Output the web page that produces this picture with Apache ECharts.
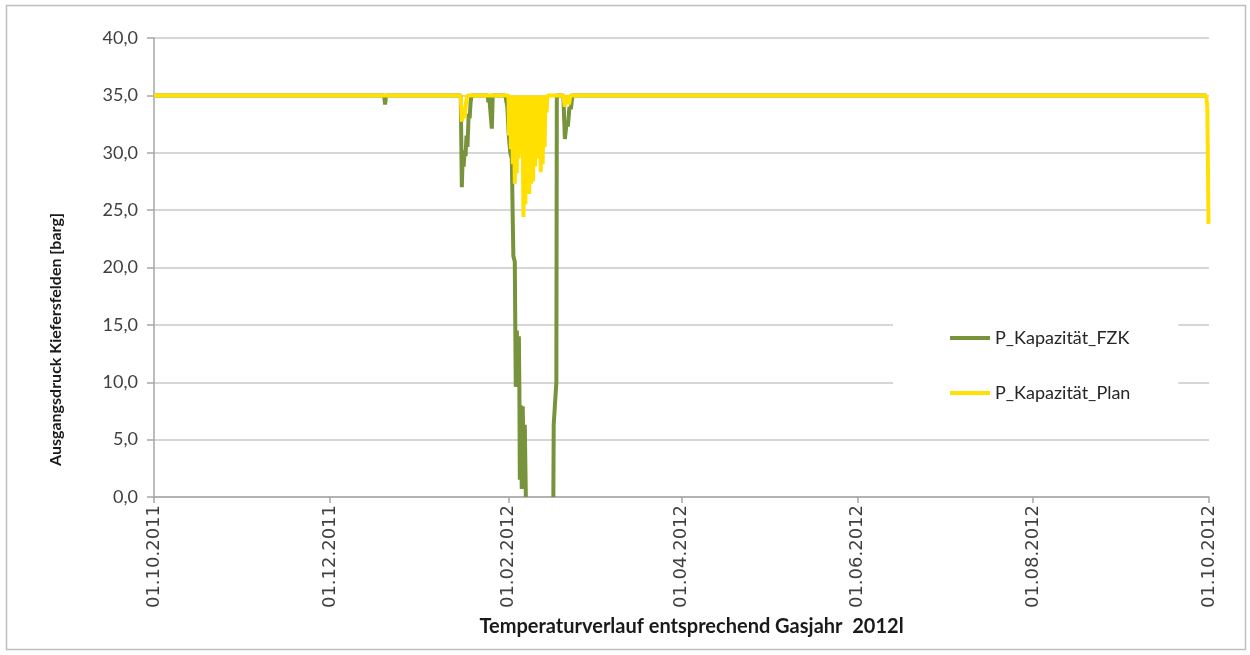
<!DOCTYPE html>
<html>
<head>
<meta charset="utf-8">
<title>Ausgangsdruck Kiefersfelden</title>
<script src="https://cdn.jsdelivr.net/npm/echarts@6/dist/echarts.min.js"></script>
<style>
  html, body { margin: 0; padding: 0; background: #fff; }
  #chart { width: 1250px; height: 655px; }
</style>
</head>
<body>
<div id="chart"></div>
<script>
// Achse
const xStart = '2011-10-01'
const xEnd = '2012-10-01'
const tickDates = ['2011-10-01', '2011-12-01', '2012-02-01', '2012-04-01', '2012-06-01', '2012-08-01', '2012-10-01']
const yMin = 0
const yMax = 40
const yStep = 5

// P_Kapazität_FZK (null = Lücke)
const fzkTimes = [
  '2011-10-01 00:00', '2011-12-19 20:00', '2011-12-20 04:00', '2011-12-20 12:00',
  '2012-01-15 10:00', '2012-01-15 19:00', '2012-01-16 03:00', '2012-01-16 10:00',
  '2012-01-16 18:00', '2012-01-17 02:00', '2012-01-17 10:00', '2012-01-17 18:00',
  '2012-01-18 04:00', '2012-01-18 12:00', '2012-01-18 20:00', '2012-01-19 04:00',
  '2012-01-24 18:00', '2012-01-25 00:00', '2012-01-25 06:00', '2012-01-25 22:00',
  '2012-01-26 05:00', '2012-01-26 12:00', '2012-01-30 21:00', '2012-01-31 14:00',
  '2012-02-01 02:00', '2012-02-01 15:00', '2012-02-02 03:00', '2012-02-02 16:00',
  '2012-02-03 04:00', '2012-02-03 12:00', '2012-02-03 21:00', '2012-02-04 05:00',
  '2012-02-04 14:00', '2012-02-04 18:00', '2012-02-04 22:00', '2012-02-05 05:00',
  '2012-02-05 14:00', '2012-02-05 22:00', '2012-02-06 07:00', '2012-02-06 15:00',
  '2012-02-07 00:00', '2012-02-10 00:00', '2012-02-16 13:00', '2012-02-16 16:00',
  '2012-02-17 14:00', '2012-02-17 18:00', '2012-02-20 00:00', '2012-02-20 13:00',
  '2012-02-21 02:00', '2012-02-21 14:00', '2012-02-22 03:00', '2012-02-22 15:00',
  '2012-02-23 04:00', '2012-09-30 00:00'
]
const fzkValues = [
  35, 35, 34.2, 35,
  35, 27.0, 30.0, 28.8,
  30.2, 29.7, 31.5, 30.5,
  33.4, 33.0, 34.4, 35,
  35, 34.4, 35, 35,
  32.1, 35, 35, 34.0,
  31.5, 30.0, 29.5, 21.0,
  20.5, 9.6, 14.5, 9.6,
  14.0, 9.6, 1.5, 8.0,
  0.7, 7.9, 2.5, 6.3,
  0.0, null, 0.0, 6.3,
  10.0, 35, 35, 31.2,
  32.5, 32.3, 34.0, 33.8,
  35, 35
]

// P_Kapazität_Plan
const planTimes = [
  '2011-10-01 00:00', '2012-01-15 10:00', '2012-01-15 19:00', '2012-01-16 07:00',
  '2012-01-16 16:00', '2012-01-17 08:00', '2012-01-17 17:00', '2012-02-01 00:00',
  '2012-02-01 04:00', '2012-02-01 12:00', '2012-02-01 20:00', '2012-02-02 04:00',
  '2012-02-02 12:00', '2012-02-02 20:00', '2012-02-03 04:00', '2012-02-03 12:00',
  '2012-02-03 20:00', '2012-02-04 04:00', '2012-02-04 12:00', '2012-02-04 20:00',
  '2012-02-05 04:00', '2012-02-05 12:00', '2012-02-05 20:00', '2012-02-06 04:00',
  '2012-02-06 12:00', '2012-02-06 20:00', '2012-02-07 04:00', '2012-02-07 12:00',
  '2012-02-07 20:00', '2012-02-08 04:00', '2012-02-08 12:00', '2012-02-08 20:00',
  '2012-02-09 04:00', '2012-02-09 12:00', '2012-02-09 20:00', '2012-02-10 04:00',
  '2012-02-10 12:00', '2012-02-10 20:00', '2012-02-11 04:00', '2012-02-11 12:00',
  '2012-02-11 20:00', '2012-02-12 04:00', '2012-02-12 12:00', '2012-02-12 20:00',
  '2012-02-13 04:00', '2012-02-13 12:00', '2012-02-13 20:00', '2012-02-14 04:00',
  '2012-02-14 12:00', '2012-02-20 00:00', '2012-02-20 12:00', '2012-02-20 20:00',
  '2012-02-21 06:00', '2012-02-21 14:00', '2012-02-22 00:00', '2012-02-22 10:00',
  '2012-09-30 00:00', '2012-09-30 10:00', '2012-09-30 20:00'
]
const planValues = [
  35, 35, 32.7, 34.0,
  33.0, 34.5, 35, 35,
  31.5, 35, 30.3, 35,
  29.0, 35, 27.3, 35,
  28.2, 35, 29.5, 35,
  35, 30.0, 35, 24.4,
  35, 25.5, 35, 27.0,
  35, 26.4, 35, 27.3,
  35, 27.5, 35, 28.8,
  35, 29.5, 35, 31.0,
  35, 28.3, 35, 29.0,
  35, 30.5, 35, 33.5,
  35, 35, 34.0, 35,
  34.3, 35, 34.2, 35,
  35, 34.0, 23.8
]

// lokale Zeit aus 'yyyy-MM-dd hh:mm'
const toTime = (s) => {
  const [d, t = '00:00'] = s.split(' ')
  const [y, m, day] = d.split('-').map(Number)
  const [hh, mm] = t.split(':').map(Number)
  return new Date(y, m - 1, day, hh, mm).getTime()
}

const pad2 = (n) => String(n).padStart(2, '0')
const fmtDate = (v) => {
  const d = new Date(v)
  return pad2(d.getDate()) + '.' + pad2(d.getMonth() + 1) + '.' + d.getFullYear()
}

const pairs = (times, values) => times.map((t, i) => [toTime(t), values[i]])
const tickValues = tickDates.map(toTime)

const chart = echarts.init(document.getElementById('chart'), null, { renderer: 'canvas' })

const option = {
  animation: false,
  backgroundColor: '#ffffff',
  grid: {
    left: 154,
    right: 41,
    top: 38,
    bottom: 158
  },
  legend: {
    orient: 'vertical',
    left: 893,
    top: 316,
    padding: [12, 48, 18, 57],
    backgroundColor: '#ffffff',
    icon: 'rect',
    itemWidth: 40,
    itemHeight: 4,
    itemGap: 35,
    textStyle: {
      fontFamily: 'Lato',
      fontSize: 18,
      lineHeight: 20,
      color: '#262626'
    },
    data: ['P_Kapazität_FZK', 'P_Kapazität_Plan']
  },
  xAxis: {
    type: 'value',
    min: toTime(xStart),
    max: toTime(xEnd),
    name: 'Temperaturverlauf entsprechend Gasjahr  2012l',
    nameLocation: 'middle',
    nameGap: 120,
    nameTextStyle: {
      fontFamily: 'Lato',
      fontWeight: 'bold',
      fontSize: 20,
      color: '#1a1a1a',
      padding: [0, 0, 0, 20]
    },
    axisLine: { show: true, onZero: false, lineStyle: { color: '#a6a6a6', width: 1.5 } },
    axisTick: {
      show: true,
      length: 6,
      lineStyle: { color: '#a6a6a6', width: 1.5 },
      customValues: tickValues
    },
    axisLabel: {
      rotate: 90,
      margin: 8,
      fontFamily: 'DejaVu Sans',
      fontSize: 18,
      color: '#404040',
      customValues: tickValues,
      formatter: fmtDate
    },
    splitLine: { show: false }
  },
  yAxis: {
    type: 'value',
    min: yMin,
    max: yMax,
    interval: yStep,
    name: 'Ausgangsdruck Kiefersfelden [barg]',
    nameLocation: 'middle',
    nameGap: 90,
    nameTextStyle: {
      fontFamily: 'Lato',
      fontWeight: 'bold',
      fontSize: 16,
      color: '#1a1a1a',
      padding: [0, 144, 0, 0]
    },
    axisLine: { show: true, lineStyle: { color: '#a6a6a6', width: 1.5 } },
    axisTick: { show: true, length: 7, lineStyle: { color: '#a6a6a6', width: 1.5 } },
    axisLabel: {
      margin: 16,
      fontFamily: 'Lato',
      fontSize: 18,
      color: '#404040',
      formatter: (v) => v.toFixed(1).replace('.', ',')
    },
    splitLine: { show: true, lineStyle: { color: '#c8c8c8', width: 1.5 } }
  },
  graphic: [
    {
      type: 'rect',
      silent: true,
      shape: { x: 6.5, y: 5.5, width: 1239, height: 644 },
      style: { fill: 'none', stroke: '#bfbfbf', lineWidth: 1.5 }
    }
  ],
  series: [
    {
      name: 'P_Kapazität_FZK',
      type: 'line',
      symbol: 'none',
      color: '#77933c',
      lineStyle: { width: 4, color: '#77933c' },
      data: pairs(fzkTimes, fzkValues)
    },
    {
      name: 'P_Kapazität_Plan',
      type: 'line',
      symbol: 'none',
      color: '#ffe000',
      lineStyle: { width: 4, color: '#ffe000' },
      data: pairs(planTimes, planValues)
    }
  ]
}

chart.setOption(option)
</script>
</body>
</html>
